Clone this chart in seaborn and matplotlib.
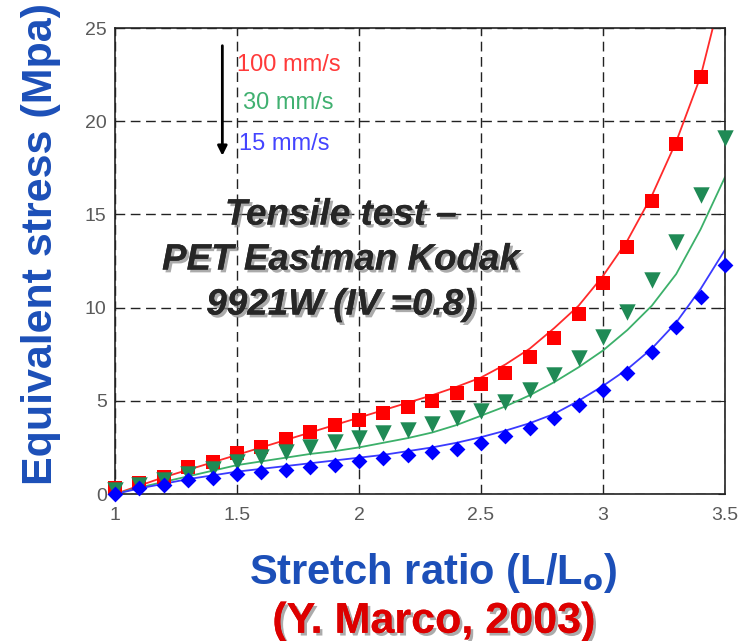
import numpy as np
import pandas as pd
import matplotlib
matplotlib.use("Agg")
import matplotlib.pyplot as plt
import matplotlib.patheffects as pe
import seaborn as sns

# stretch ratio grid of the measurements
stretch = [1.0, 1.1, 1.2, 1.3, 1.4, 1.5, 1.6, 1.7, 1.8, 1.9, 2.0, 2.1, 2.2,
           2.3, 2.4, 2.5, 2.6, 2.7, 2.8, 2.9, 3.0, 3.1, 3.2, 3.3, 3.4, 3.5]

# measured points (MPa)
exp_100 = [0.3, 0.6, 0.93, 1.45, 1.73, 2.2, 2.54, 2.93, 3.34, 3.7, 3.97, 4.36, 4.65,
           5.0, 5.4, 5.9, 6.5, 7.37, 8.35, 9.66, 11.3, 13.27, 15.73, 18.78, 22.39]
exp_30 = [0.2, 0.5, 0.75, 1.1, 1.35, 1.73, 1.97, 2.27, 2.54, 2.8, 2.99, 3.26, 3.43,
          3.76, 4.06, 4.47, 4.95, 5.58, 6.38, 7.28, 8.4, 9.78, 11.48, 13.54, 16.04, 19.08]
exp_15 = [0.0, 0.3, 0.48, 0.75, 0.84, 1.07, 1.2, 1.29, 1.47, 1.56, 1.79, 1.91, 2.09,
          2.27, 2.4, 2.72, 3.11, 3.52, 4.06, 4.77, 5.58, 6.47, 7.63, 8.98, 10.58, 12.29]

# model curves
fit_x_100 = stretch[:25] + [3.45]
fit_100 = [0.0, 0.45, 0.9, 1.3, 1.7, 2.1, 2.5, 2.9, 3.3, 3.7, 4.1, 4.5, 4.9,
           5.3, 5.75, 6.25, 6.95, 7.8, 8.9, 10.1, 11.7, 13.6, 16.0, 18.9, 22.4, 25.0]
fit_30 = [0.0, 0.35, 0.65, 0.95, 1.25, 1.55, 1.75, 1.95, 2.15, 2.3, 2.5, 2.75, 3.0,
          3.3, 3.7, 4.2, 4.7, 5.3, 6.0, 6.8, 7.7, 8.8, 10.1, 11.8, 14.2, 17.0]
fit_15 = [0.0, 0.3, 0.55, 0.8, 1.0, 1.2, 1.35, 1.5, 1.65, 1.8, 1.95, 2.1, 2.3,
          2.5, 2.75, 3.05, 3.4, 3.8, 4.3, 5.0, 5.8, 6.7, 7.8, 9.2, 11.0, 13.1]

speeds = ["100 mm/s", "30 mm/s", "15 mm/s"]
x_ticks = [1, 1.5, 2, 2.5, 3, 3.5]
y_ticks = [0, 5, 10, 15, 20, 25]

sns.set_style("white")
plt.rcParams['font.family'] = ['Liberation Sans', 'DejaVu Sans']

fig = plt.figure(figsize=(7.53, 6.41), dpi=100)
ax = fig.add_axes([0.1527, 0.2293, 0.8101, 0.727])

pts = pd.concat([
    pd.DataFrame({'x': stretch[:25], 'y': exp_100, 's': speeds[0]}),
    pd.DataFrame({'x': stretch, 'y': exp_30, 's': speeds[1]}),
    pd.DataFrame({'x': stretch, 'y': exp_15, 's': speeds[2]}),
])
fits = pd.concat([
    pd.DataFrame({'x': fit_x_100, 'y': fit_100, 's': speeds[0]}),
    pd.DataFrame({'x': stretch, 'y': fit_30, 's': speeds[1]}),
    pd.DataFrame({'x': stretch, 'y': fit_15, 's': speeds[2]}),
])

line_cols = {speeds[0]: '#ff2a2a', speeds[1]: '#3cb06a', speeds[2]: '#3a3aff'}
sns.lineplot(data=fits, x='x', y='y', hue='s', palette=line_cols, sort=False,
             estimator=None, linewidth=1.3, legend=False, ax=ax, zorder=2)

mk = {speeds[0]: ('s', '#ff0000', 110), speeds[1]: ('v', '#1f8a55', 140),
      speeds[2]: ('D', '#0000ff', 65)}
for sp in speeds:
    m, c, size = mk[sp]
    sns.scatterplot(data=pts[pts['s'] == sp], x='x', y='y', marker=m, color=c,
                    s=size, linewidth=0, ax=ax, zorder=3, clip_on=False)

ax.set_xlim(1, 3.5)
ax.set_ylim(0, 25)
ax.set_xticks(x_ticks)
ax.set_xticklabels([f"{t:g}" for t in x_ticks])
ax.set_yticks(y_ticks)
ax.grid(True, color='#222222', linestyle=(0, (7, 4)), linewidth=1.0)
ax.tick_params(direction='in', length=5, top=True, right=True, labelsize=14,
               labelcolor='#5a5a5a', color='#222222')
ax.tick_params(axis='x', pad=9)
ax.tick_params(axis='y', pad=6)
for s in ax.spines.values():
    s.set_color('#222222')
    s.set_linewidth(1.2)
ax.set_xlabel('')
ax.set_ylabel('')

# arrow and speed labels
ax.annotate('', xy=(1.44, 18.0), xytext=(1.44, 24.2),
            arrowprops=dict(arrowstyle='-|>', color='black', lw=2, mutation_scale=14))
ax.text(1.50, 23.0, speeds[0], color='#ff3a3a', fontsize=17, va='center')
ax.text(1.525, 21.0, speeds[1], color='#40b070', fontsize=17, va='center')
ax.text(1.51, 18.8, speeds[2], color='#4444ff', fontsize=17, va='center')

shadow = [pe.withSimplePatchShadow(offset=(2, -2), shadow_rgbFace='#888888', alpha=0.7),
          pe.Normal()]
ax.text(1.926, 12.55, 'Tensile test \u2013\nPET Eastman Kodak\n9921W (IV =0.8)',
        ha='center', va='center', fontsize=26.5, fontweight='bold', style='italic',
        linespacing=1.37, path_effects=shadow, zorder=4)

fig.text(0.0545, 0.619, 'Equivalent stress (Mpa)', rotation=90, ha='center', va='center',
         fontsize=31, fontweight='bold', color='#1c4fb8')
fig.text(0.575, 0.106, 'Stretch ratio (L/L$_\\mathbf{o}$)', ha='center', va='center',
         fontsize=30, fontweight='bold', color='#1c4fb8')
fig.text(0.576, 0.030, '(Y. Marco, 2003)', ha='center', va='center',
         fontsize=31, fontweight='bold', color='#dd0000', path_effects=shadow)

fig.savefig('out.png', dpi=100)
